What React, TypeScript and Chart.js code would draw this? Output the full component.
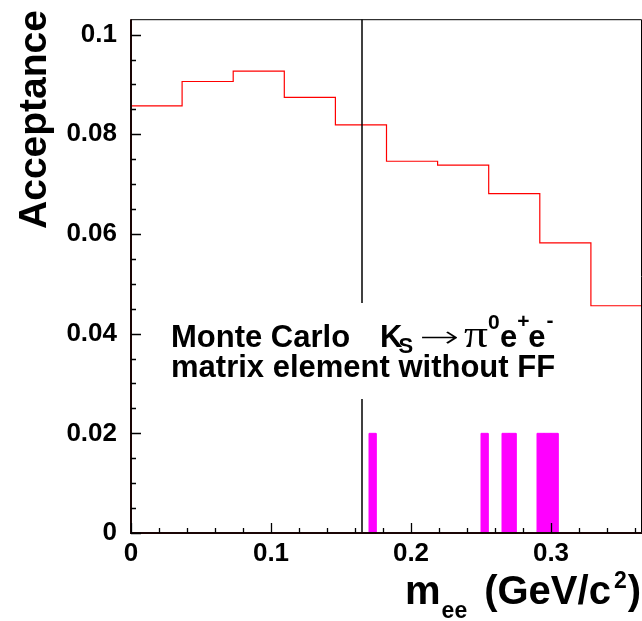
import React, { useEffect, useRef } from "react";
import { Chart, registerables } from "chart.js";

Chart.register(...registerables);

// ---- data ----
const binEdges = [0, 0.0365, 0.073, 0.1095, 0.146, 0.1825, 0.219, 0.2555, 0.292, 0.3285, 0.365];
const acceptance = [0.0857, 0.0906, 0.0927, 0.0874, 0.0819, 0.0746, 0.0738, 0.0681, 0.0582, 0.0456];
const fineBinLow = [0.17, 0.25, 0.265, 0.27, 0.29, 0.295, 0.3];
const fineBinWidth = 0.005;
const fineBinValue = 0.02;
const cutMass = 0.165;

const xMin = 0;
const xMax = 0.365;
const yMin = 0;
const yMax = 0.1031;
const xTickValues = [0, 0.1, 0.2, 0.3];
const xTickLabels = ["0", "0.1", "0.2", "0.3"];
const xMinorStep = 0.02;
const yTickValues = [0, 0.02, 0.04, 0.06, 0.08, 0.1];
const yTickLabels = ["0", "0.02", "0.04", "0.06", "0.08", "0.1"];
const yMinorStep = 0.005;

const FONT = "'Liberation Sans', Arial, Helvetica, sans-serif";

const redPoints = acceptance.flatMap((v, i) => [
  { x: binEdges[i], y: v },
  { x: binEdges[i + 1], y: v },
]);

const fineDatasets = fineBinLow.map((b) => ({
  type: "line" as const,
  data: [
    { x: b, y: 0 },
    { x: b, y: fineBinValue },
    { x: b + fineBinWidth, y: fineBinValue },
    { x: b + fineBinWidth, y: 0 },
  ],
  borderColor: "#ff00ff",
  borderWidth: 1,
  backgroundColor: "#ff00ff",
  fill: "origin",
  pointRadius: 0,
  tension: 0,
  order: 3,
}));

function piece(ctx: CanvasRenderingContext2D, text: string, x: number, y: number, font: string) {
  ctx.font = font;
  ctx.fillText(text, x, y);
  return ctx.measureText(text).width;
}

const rootPlugin = {
  id: "rootStyle",
  afterDatasetsDraw(chart: any) {
    const { ctx, chartArea, scales } = chart;
    const { left, right, top, bottom } = chartArea;
    const xs = scales.x;
    const ys = scales.y;
    ctx.save();

    // text box (white pave covering the cut line)
    ctx.fillStyle = "#ffffff";
    ctx.fillRect(163, 303, 420, 96);

    // frame
    ctx.strokeStyle = "#000";
    ctx.lineWidth = 1;
    ctx.beginPath();
    ctx.moveTo(left, top + 0.5);
    ctx.lineTo(right - 0.5, top + 0.5);
    ctx.lineTo(right - 0.5, bottom);
    ctx.stroke();

    // axes
    ctx.lineWidth = 2;
    ctx.strokeStyle = "#1a0505";
    ctx.beginPath();
    ctx.moveTo(left, top);
    ctx.lineTo(left, bottom);
    ctx.lineTo(right, bottom);
    ctx.stroke();

    // ticks
    ctx.lineWidth = 1.3;
    ctx.strokeStyle = "#000";
    ctx.beginPath();
    for (let v = yMin; v <= yMax + 1e-9; v += yMinorStep) {
      const p = Math.round(ys.getPixelForValue(v)) + 0.5;
      const major = yTickValues.some((t) => Math.abs(t - v) < 1e-6);
      ctx.moveTo(left, p);
      ctx.lineTo(left + (major ? 10 : 5), p);
    }
    for (let v = xMin; v <= xMax + 1e-9; v += xMinorStep) {
      const p = Math.round(xs.getPixelForValue(v)) + 0.5;
      const major = xTickValues.some((t) => Math.abs(t - v) < 1e-6);
      ctx.moveTo(p, bottom);
      ctx.lineTo(p, bottom - (major ? 10 : 5));
    }
    ctx.stroke();

    // text in pave
    ctx.fillStyle = "#000";
    ctx.textAlign = "left";
    ctx.textBaseline = "alphabetic";
    const bold31 = `bold 31px ${FONT}`;
    const bold22 = `bold 22px ${FONT}`;
    const bold21 = `bold 21px ${FONT}`;
    piece(ctx, "Monte Carlo", 171, 347, bold31);
    piece(ctx, "matrix element without FF", 171, 377, bold31);
    let cx = 380;
    cx += piece(ctx, "K", cx, 347, bold31);
    piece(ctx, "S", cx - 4, 353, bold22);
    // arrow (thin, stretched)
    ctx.save();
    ctx.font = `200 30px 'DejaVu Sans', sans-serif`;
    const aw = ctx.measureText("\u2192").width;
    ctx.translate(419, 347);
    ctx.scale(40 / aw, 1);
    ctx.fillText("\u2192", 0, 0);
    ctx.restore();
    // pi (symbol font, regular)
    ctx.save();
    ctx.font = `38px 'Liberation Serif', 'Times New Roman', serif`;
    const pw = ctx.measureText("\u03c0").width;
    ctx.translate(464, 347);
    ctx.scale(24 / pw, 1);
    ctx.fillText("\u03c0", 0, 0);
    ctx.restore();
    piece(ctx, "0", 488, 329, bold21);
    let ex = 500;
    ex += piece(ctx, "e", ex, 347, bold31);
    piece(ctx, "+", ex, 328, bold21);
    ex += 11;
    ex += piece(ctx, "e", ex, 347, bold31);
    piece(ctx, "-", ex + 1, 327, bold21);

    // x axis title: m_ee (GeV/c^2), right aligned
    const big = `bold 40px ${FONT}`;
    const small = `bold 23px ${FONT}`;
    ctx.font = big;
    const wm = ctx.measureText("m").width;
    const wg = ctx.measureText("(GeV/c").width;
    const wp = ctx.measureText(")").width;
    ctx.font = small;
    const we = ctx.measureText("ee").width;
    const w2 = ctx.measureText("2").width;
    const gapA = 1, gapB = 17, gapC = 3, gapD = 1;
    const total = wm + gapA + we + gapB + wg + gapC + w2 + gapD + wp;
    let tx = 641 - total;
    tx += piece(ctx, "m", tx, 604, big) + gapA;
    tx += piece(ctx, "ee", tx, 618, small) + gapB;
    tx += piece(ctx, "(GeV/c", tx, 604, big) + gapC;
    tx += piece(ctx, "2", tx, 588, small) + gapD;
    piece(ctx, ")", tx, 604, big);

    // y axis title
    ctx.save();
    ctx.translate(46, 10);
    ctx.rotate(-Math.PI / 2);
    ctx.textAlign = "right";
    piece(ctx, "Acceptance", 0, 0, `bold 39px ${FONT}`);
    ctx.restore();

    ctx.restore();
  },
};

export default function App() {
  const ref = useRef<HTMLCanvasElement | null>(null);

  useEffect(() => {
    if (!ref.current) return;
    const chart = new Chart(ref.current, {
      type: "line",
      data: {
        datasets: [
          {
            type: "line",
            data: [
              { x: cutMass, y: yMin },
              { x: cutMass, y: yMax },
            ],
            borderColor: "#000",
            borderWidth: 1.5,
            pointRadius: 0,
            fill: false,
            order: 1,
          },
          {
            type: "line",
            data: redPoints,
            borderColor: "#ff0000",
            borderWidth: 1.2,
            pointRadius: 0,
            tension: 0,
            fill: false,
            order: 2,
          },
          ...fineDatasets,
        ] as any,
      },
      options: {
        animation: false,
        responsive: false,
        devicePixelRatio: 1,
        events: [],
        layout: { padding: { top: 6, right: 0, bottom: 0, left: 0 } },
        plugins: { legend: { display: false }, tooltip: { enabled: false } },
        scales: {
          x: {
            type: "linear",
            position: "bottom",
            min: xMin,
            max: xMax,
            grid: { display: false, drawTicks: false },
            border: { display: false },
            afterBuildTicks: (s: any) => {
              s.ticks = xTickValues.map((v) => ({ value: v }));
            },
            afterFit: (s: any) => {
              s.height = 88;
            },
            ticks: {
              autoSkip: false,
              maxRotation: 0,
              padding: 5,
              color: "#000",
              font: { family: FONT, size: 26, weight: "bold", lineHeight: 1.2 },
              callback: (v: any) => xTickLabels[xTickValues.findIndex((t) => Math.abs(t - v) < 1e-9)] ?? "",
            },
          },
          y: {
            type: "linear",
            position: "left",
            min: yMin,
            max: yMax,
            grid: { display: false, drawTicks: false },
            border: { display: false },
            afterBuildTicks: (s: any) => {
              s.ticks = yTickValues.map((v) => ({ value: v }));
            },
            afterFit: (s: any) => {
              s.width = 131;
            },
            ticks: {
              autoSkip: false,
              padding: 14,
              color: "#000",
              font: { family: FONT, size: 26, weight: "bold", lineHeight: 0.4 },
              callback: (v: any) => yTickLabels[yTickValues.findIndex((t) => Math.abs(t - v) < 1e-9)] ?? "",
            },
          },
        },
      } as any,
      plugins: [rootPlugin],
    });
    return () => chart.destroy();
  }, []);

  return (
    <div style={{ position: "fixed", left: 0, top: 0, width: 642, height: 621, background: "#fff" }}>
      <canvas ref={ref} width={642} height={621} style={{ display: "block" }} />
    </div>
  );
}
